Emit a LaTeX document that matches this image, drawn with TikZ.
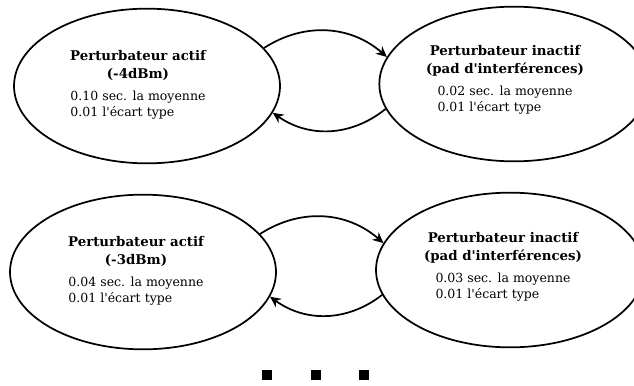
\documentclass[tikz,border=0pt]{standalone}
\usepackage{fontspec}
\setmainfont{DejaVu Serif}
\usepackage{tikz}
\usetikzlibrary{shapes.geometric,arrows.meta}

\newcommand{\stats}[2]{{\fontsize{9.4}{12}\selectfont\mdseries
  \begin{tabular}[t]{@{}l@{}}#1 sec. la moyenne\\#2 l\textquotesingle écart type\end{tabular}}}

\begin{document}
\begin{tikzpicture}[x=0.75pt,y=-0.75pt,
    etat/.style={ellipse,draw,line width=1.3pt,minimum width=199.5pt,minimum height=116pt,inner sep=0pt},
    txt/.style={align=center,font=\fontsize{10}{13.5}\selectfont\bfseries,inner sep=0pt},
    ptr/.style={-{Stealth[length=8pt,width=7.5pt]},line width=1.3pt},
    carre/.style={rectangle,fill=black,minimum size=8pt,inner sep=0pt}]

\clip (0,0) rectangle (634,385);

% Premier jeu
\node[etat] (act1) at (147,86) {};
\node[etat,minimum width=202pt] (inact1) at (514,84) {};
\node[txt] (act1t) at (138,85.5) {Perturbateur actif\\(-4dBm)\\[3pt]\stats{0.10}{0.01}};
\node[txt] (inact1t) at (505,81) {Perturbateur inactif\\(pad d\textquotesingle interférences)\\[3pt]\stats{0.02}{0.01}};

\draw[ptr] (act1.18) to[bend left=37] (inact1.168);
\draw[ptr] (inact1.-169) to[bend left=37] (act1.-12);

% Second jeu
\node[etat] (act2) at (143,272) {};
\node[etat,minimum width=201pt] (inact2) at (510,270) {};
\node[txt] (act2t) at (136,272) {Perturbateur actif\\(-3dBm)\\[3pt]\stats{0.04}{0.01}};
\node[txt] (inact2t) at (503,268) {Perturbateur inactif\\(pad d\textquotesingle interférences)\\[3pt]\stats{0.03}{0.01}};

\draw[ptr] (act2.18) to[bend left=37] (inact2.168);
\draw[ptr] (inact2.-169) to[bend left=37] (act2.-11);

% Points de suite
\node[carre] (p1) at (267,375) {};
\node[carre] (p2) at (316,375) {};
\node[carre] (p3) at (364,375) {};

\end{tikzpicture}
\end{document}
